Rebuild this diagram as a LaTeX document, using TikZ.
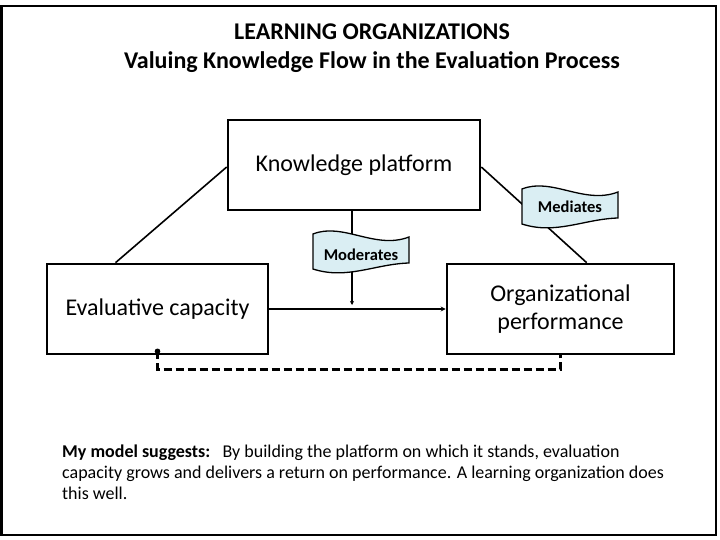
\documentclass[tikz,border=0pt]{standalone}
\usepackage{fontspec}
\setmainfont{Carlito}
\usetikzlibrary{arrows.meta}
\definecolor{flagblue}{HTML}{DAEEF3}
\tikzset{
  box/.style={draw, line width=2.6pt, minimum height=90pt, inner sep=0pt, align=center, font=\fontsize{24}{28}\selectfont},
  conn/.style={line width=1.6pt},
  flagtext/.style={font=\fontsize{16.5}{18}\selectfont\bfseries, inner sep=0pt},
  wflag/.pic={\draw[fill=flagblue, line width=1.3pt] (0,0) .. controls (30,-12) and (62,16) .. (96,3) -- (96,29) .. controls (62,30) and (34,46) .. (0,35) -- cycle;}
}
\begin{document}
\begin{tikzpicture}[x=1pt,y=-1pt]
\useasboundingbox (0,0) rectangle (720,540);
\draw[line width=2.6pt] (1.3,6) rectangle (716,535);

\node[font=\fontsize{24}{29}\selectfont\bfseries, align=center] (title) at (372,48.5) {LEARNING ORGANIZATIONS\\Valuing Knowledge Flow in the Evaluation Process};

\node[box, minimum width=252pt] (KP) at (354,165) {Knowledge platform};
\node[box, minimum width=221pt] (EC) at (157.5,309) {Evaluative capacity};
\node[box, minimum width=227pt] (OP) at (560.5,309) {Organizational\\performance};

% connectors
\draw[conn] ([xshift=-42pt]EC.north) -- ([yshift=-2pt]KP.west);
\draw[conn] ([yshift=-2pt]KP.east) -- ([xshift=141pt]OP.north west);
\coordinate (modend) at (352,305);
\draw[conn, -{Stealth[length=4pt,width=4pt]}] ([xshift=-2pt]KP.south) -- (modend);
\draw[conn, -{Stealth[length=5pt,width=5pt]}] (EC.east) -- (OP.west);
\coordinate (dotpt) at ([yshift=4pt]EC.south);
\draw[line width=2.6pt, dash pattern=on 8pt off 4pt] (dotpt) -- ++(0,18) -| (OP.south);
\fill (dotpt) circle (2.8pt);

% flags
\pic at (313,234) {wflag};
\node[flagtext] (mod) at (361,255) {Moderates};
\pic at (522,189) {wflag};
\node[flagtext] (med) at (570,207) {Mediates};

% explanation
\node[anchor=north west, align=left, inner sep=0pt, font=\fontsize{18}{21}\selectfont] (expl) at (62,445)
{\textbf{My model suggests:}\ \ \ By building the platform on which it stands, evaluation\\
capacity grows and delivers a return on performance. A learning organization does\\
this well.};
\end{tikzpicture}
\end{document}
